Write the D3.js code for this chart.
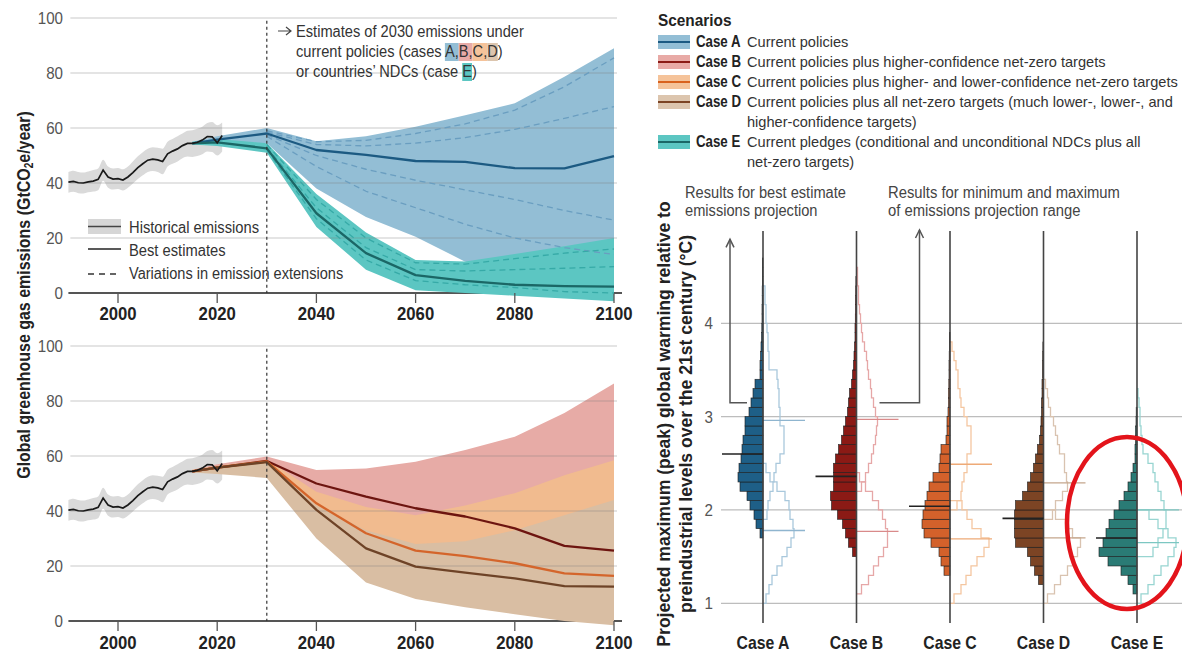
<!DOCTYPE html>
<html><head><meta charset="utf-8">
<script src="https://cdn.jsdelivr.net/npm/d3@7/dist/d3.min.js"></script>
<style>
html,body{margin:0;padding:0;background:#fff;}
text{font-family:"Liberation Sans","Arial",sans-serif;}
</style></head><body>
<svg id="chart" width="1182" height="654"></svg>
<script>
// ================= DATA =================
const histYears = [1990,1991,1992,1993,1994,1995,1996,1997,1998,1999,2000,2001,2002,2003,2004,2005,2006,2007,2008,2009,2010,2011,2012,2013,2014,2015,2016,2017,2018,2019,2020,2021];
const histBest  = [40.3,40.6,40.1,40,40.4,40.7,41.3,44.7,42.2,41.4,41.6,41.1,42.2,43.8,45.6,47,48.3,48.7,48.4,47.8,50.6,51.6,52.4,53.6,54.4,54.4,54.8,55.6,56.9,56.8,54.6,57.3];
const histHi    = [44,44.5,44,43.8,44.2,44.7,45.3,48.5,46,45.3,45.5,45,46,47.8,49.7,51.2,52.5,53,52.8,52.5,55,56,57,58,59,59.2,59.7,60.5,61.8,62.2,61,62];
const histLo    = [36.5,36.8,36.3,36.2,36.6,36.9,37.4,40.8,38.3,37.6,37.8,37.3,38.3,39.8,41.5,42.8,44,44.4,44,43.2,46,47,47.8,49,49.6,49.5,49.8,50.5,51.5,51.3,50,51.5];

const projYears = [2015,2020,2030,2040,2050,2060,2070,2080,2090,2100];
const caseA_line = [54.4,55.8,58,52,50.2,48,47.7,45.4,45.3,49.8];
const caseA_hi   = [55,57,60,55.2,57,60.5,64.6,69,78.6,89];
const caseA_lo   = [54,55,54.5,38,27.6,20.5,11.4,9,7,5];
const caseE_line = [54.4,54.8,52.6,29,14.5,6.5,4.4,3,2.5,2.3];
const caseE_hi   = [55,56,54.5,36,22,12,11.5,14.2,17,20];
const caseE_lo   = [54,53.5,51,24,8.5,1,0,-1,-2,-3];

const caseB_line = [54.4,55.8,58.2,50,45.2,41,38,33.7,27.3,25.6];
const caseB_hi   = [55,57,59.8,54.9,55.5,57.9,62.2,67,75.6,86.4];
const caseB_lo   = [54,55,55.5,44,36,30,25,20,15,10];
const caseC_line = [54.4,55.8,58,42.8,31.9,25.6,23.6,21,17.3,16.4];
const caseC_hi   = [55,56.5,58.7,47,41.5,38.5,42,46.5,53,58.5];
const caseC_lo   = [54,54,53,33,19,11,7,3.5,1,-0.5];
const caseD_line = [54.4,55.8,57.8,40.4,26.4,19.8,17.6,15.5,12.7,12.5];
const caseD_hi   = [54.8,56,58,42,33,28,29,33,38.5,44];
const caseD_lo   = [54,53.5,52,30,14,8,5,2.5,0,-1.5];

const dashYears = [2030,2040,2050,2060,2070,2080,2090,2100];
const dashA1 = [59,55,55.5,58,61.5,66.5,75,85.5];
const dashA2 = [58.5,54,53.5,54.5,56.5,59.5,63.5,67.8];
const dashA3 = [57.5,50,45,41,37.5,34,30,26.5];
const dashA4 = [57,46,37,31,25,20,16.5,14];
const dashE1 = [54,34,20,11,10.5,12.5,14.5,16];
const dashE2 = [53,31,16.5,8.5,8,8.5,9,9.6];
const dashE3 = [52,27,12,4.5,3,2,0.5,0];

const xTicks = [2000,2020,2040,2060,2080,2100];
const yTicks = [0,20,40,60,80,100];
const tempTicks = [1,2,3,4];

const caseNames = ["Case A","Case B","Case C","Case D","Case E"];
const legendDesc = [
  ["Current policies"],
  ["Current policies plus higher-confidence net-zero targets"],
  ["Current policies plus higher- and lower-confidence net-zero targets"],
  ["Current policies plus all net-zero targets (much lower-, lower-, and","higher-confidence targets)"],
  ["Current pledges (conditional and unconditional NDCs plus all","net-zero targets)"]
];

// histogram bins are 0.1 °C wide; first value = lower edge of first bin
const medianBest = [2.6,2.36,2.04,1.91,1.7];
const medianMax  = [2.96,2.97,2.49,2.29,2.0];
const medianMin  = [1.78,1.77,1.69,1.7,1.65];
const bestStart = [1.7,1.5,1.3,1.2,1.1];
const maxStart  = [1.9,2.2,2.0,1.9,1.5];
const minStart  = [1.0,1.1,1.0,1.0,1.0];
const histA_best = [3,7,9,13,16,23,25,24,22,21,20,18,18,14,12,10,8,3,3,2.5,2,1.5,1.2,1,1,0.8,0.8,0.6,0.5,0.5];
const histA_max  = [4,5,7,10,11,13,17,21,21,21,17,17,16,16,15,14,6,6,5,5,4,3,3,2,2];
const histA_min  = [3,6,9,14,19,24,28,31,30,27,26,22,14,7,3];
const histB_best = [4,8,11,14,19,25,26,23,23,23,21,18,15,13,11,9,8,7,5,4,3,2.5,2,1.5,1.5,1.2,1,1,0.8,0.6];
const histB_max  = [5,9,12,15,17,19,20,21,19,17,15,14,12,11,10,8,6,5,4,3,2,2,1,1];
const histB_min  = [5,12,17,22,27,31,31,29,26,22,16,9,3];
const histC_best = [6,9,11,19,26,28,27,25,23,21,17,11,10,9,4,3,3,2,1.5,1.5,1.2,1,1,0.8,0.6,0.5];
const histC_max  = [7,11,12,14,17,17,21,21,21,17,14,11,10,8,8,6,4,2];
const histC_min  = [4,11,16,21,27,34,39,31,22,17,12];
const histD_best = [5,9,13,16,28,29,29,29,28,21,16,13,10,8,6,4,3,2.5,2,2,1.5,1.5,1,1,0.8,0.6];
const histD_max  = [9,12,19,24,23,21,21,16,14,12,10,7,5,4,2];
const histD_min  = [4,11,17,24,29,34,37,29,22,12];
const histE_best = [4,9,16,29,38,34,31,28,23,18,13,9,6,4,2,2,1.5,1.5,1,0.8];
const histE_max  = [16,21,26,29,29,27,24,21,18,16,11,6,5,4,3,3,2,1];
const histE_min  = [4,11,17,24,31,37,39,31,21,12];

// ================= STYLE =================
const caseFill    = ["#1e5f87","#8b1a15","#d3612b","#7c4424","#2a7b75"];
const caseOutline = ["#a9c8dc","#e6a7a7","#f4c6a0","#d9c3b0","#98d5d1"];
const caseRangeLn = ["#8fb5cf","#d98a8a","#eeaa77","#c4a68c","#7cc7c2"];
const legSwatch   = ["#93bed5","#e8aaa6","#f5c39a","#dcc5ae","#5cc6c2"];
const legLine     = ["#1c5a82","#8b1a15","#d9621e","#7c4424","#1b6766"];

// condensed-font emulation: squeeze text horizontally
function cond(sel, f){
  sel.each(function(){
    const L = this.getComputedTextLength();
    this.setAttribute("textLength", (L*f).toFixed(2));
    this.setAttribute("lengthAdjust","spacingAndGlyphs");
  });
  return sel;
}

// ================= DRAW =================
const svg = d3.select("#chart");
const x = d3.scaleLinear().domain([1990,2100]).range([68.4,614]);
const yTop = d3.scaleLinear().domain([0,100]).range([293,18]);
const yBot = d3.scaleLinear().domain([0,100]).range([621,346]);

function rows(years, ...cols){ return years.map((yr,i)=>({year:yr, v:cols.map(c=>c[i])})); }

function drawPanel(y, bands, lines, dashes, labelBase){
  const g = svg.append("g");
  const hist = rows(histYears, histBest, histHi, histLo);
  g.append("path").datum(hist)
    .attr("d", d3.area().curve(d3.curveMonotoneX).x(d=>x(d.year)).y0(d=>y(d.v[2])).y1(d=>y(d.v[1])))
    .attr("fill","#dadada");
  g.append("line").attr("x1",x(1990)).attr("x2",x(2100)+8).attr("y1",y(0)).attr("y2",y(0))
    .attr("stroke","#555").attr("stroke-width",2.2);
  bands.forEach(b=>{
    g.append("path").datum(rows(projYears,b.hi,b.lo))
      .attr("d", d3.area().x(d=>x(d.year)).y0(d=>y(d.v[1])).y1(d=>y(d.v[0])))
      .attr("fill",b.color);
  });
  g.selectAll(".grid").data(yTicks.filter(t=>t>0)).enter().append("line")
    .attr("x1",x(1990)+2).attr("x2",617).attr("y1",d=>y(d)).attr("y2",d=>y(d))
    .attr("stroke","#7d7d7d").attr("stroke-opacity",0.42).attr("stroke-width",1);
  cond(g.selectAll(".yl").data(yTicks).enter().append("text")
    .attr("x",63).attr("y",d=>y(d)+6).attr("text-anchor","end")
    .attr("font-size",17).attr("fill","#555").text(d=>d), 0.89);
  g.selectAll(".xt").data(xTicks).enter().append("line")
    .attr("x1",d=>x(d)).attr("x2",d=>x(d)).attr("y1",y(0)).attr("y2",y(0)+10)
    .attr("stroke","#555").attr("stroke-width",1.3);
  cond(g.selectAll(".xl").data(xTicks).enter().append("text")
    .attr("x",d=>x(d)).attr("y",labelBase).attr("text-anchor","middle")
    .attr("font-size",19).attr("font-weight","bold").attr("fill","#222").text(d=>d), 0.88);
  dashes.forEach(dd=>{
    g.append("path").datum(rows(dashYears,dd.v))
      .attr("d", d3.line().x(d=>x(d.year)).y(d=>y(d.v[0])))
      .attr("fill","none").attr("stroke",dd.color).attr("stroke-width",1.3).attr("stroke-dasharray","6,4");
  });
  lines.forEach(l=>{
    g.append("path").datum(rows(projYears,l.v))
      .attr("d", d3.line().x(d=>x(d.year)).y(d=>y(d.v[0])))
      .attr("fill","none").attr("stroke",l.color).attr("stroke-width",2.3).attr("stroke-linejoin","round");
  });
  g.append("path").datum(hist)
    .attr("d", d3.line().x(d=>x(d.year)).y(d=>y(d.v[0])))
    .attr("fill","none").attr("stroke","#1a1a1a").attr("stroke-width",1.7);
  g.append("line").attr("x1",x(2030)).attr("x2",x(2030)).attr("y1",y(99)).attr("y2",y(0))
    .attr("stroke","#333").attr("stroke-width",1.2).attr("stroke-dasharray","3,3");
  return g;
}

drawPanel(yTop,
  [{hi:caseA_hi,lo:caseA_lo,color:"#93bed5"},{hi:caseE_hi,lo:caseE_lo,color:"#5cc6c2"}],
  [{v:caseA_line,color:"#1c5a82"},{v:caseE_line,color:"#1b6766"}],
  [{v:dashA1,color:"#6a9ec0"},{v:dashA2,color:"#6a9ec0"},{v:dashA3,color:"#6a9ec0"},{v:dashA4,color:"#6a9ec0"},
   {v:dashE1,color:"#36aaa7"},{v:dashE2,color:"#36aaa7"},{v:dashE3,color:"#36aaa7"}], 320);

drawPanel(yBot,
  [{hi:caseB_hi,lo:caseB_lo,color:"#e7aba6"},{hi:caseC_hi,lo:caseC_lo,color:"#f1bb8f"},{hi:caseD_hi,lo:caseD_lo,color:"#d9bea3"}],
  [{v:caseB_line,color:"#6d1510"},{v:caseC_line,color:"#d4652b"},{v:caseD_line,color:"#6e4327"}],
  [], 649);

// left y title
const lt = svg.append("text").attr("transform","translate(30,295) rotate(-90)")
  .attr("text-anchor","middle").attr("font-size",19).attr("font-weight","bold").attr("fill","#222");
lt.append("tspan").text("Global greenhouse gas emissions (GtCO");
lt.append("tspan").attr("font-size",12).attr("dy",3).text("2");
lt.append("tspan").attr("dy",-3).text("e/year)");
cond(lt, 0.84);

// top-left legend
const lg = svg.append("g").attr("font-size",16).attr("fill","#333");
lg.append("rect").attr("x",88).attr("y",219).attr("width",33).attr("height",15).attr("fill","#d6d6d6");
lg.append("line").attr("x1",88).attr("x2",121).attr("y1",226.5).attr("y2",226.5).attr("stroke","#444").attr("stroke-width",1.5);
lg.append("line").attr("x1",88).attr("x2",121).attr("y1",249).attr("y2",249).attr("stroke","#222").attr("stroke-width",1.5);
lg.append("line").attr("x1",88).attr("x2",121).attr("y1",274).attr("y2",274).attr("stroke","#333").attr("stroke-width",1.3).attr("stroke-dasharray","6,5");
cond(lg.append("text").attr("x",129).attr("y",233).text("Historical emissions"), 0.92);
cond(lg.append("text").attr("x",129).attr("y",256).text("Best estimates"), 0.92);
cond(lg.append("text").attr("x",129).attr("y",279).text("Variations in emission extensions"), 0.91);

// annotation with highlights
const ann = svg.append("g").attr("font-size",16).attr("fill","#333");
ann.append("path").attr("d","M278,31H291M286,27L291,31L286,35").attr("stroke","#444").attr("stroke-width",1.2).attr("fill","none");
const annLines = [
  {t:"Estimates of 2030 emissions under", y:37, hl:[]},
  {t:"current policies (cases A,B,C,D)", y:57, hl:[["A,",legSwatch[0]],["B,",legSwatch[1]],["C,",legSwatch[2]],["D",legSwatch[3]]]},
  {t:"or countries\u2019 NDCs (case E)", y:77, hl:[["E",legSwatch[4]]]}
];
annLines.forEach(l=>{
  const hg = ann.append("g");
  const te = ann.append("text").attr("x",296).attr("y",l.y).text(l.t);
  cond(te, 0.915);
  const node = te.node();
  let from = l.t.indexOf("(")+1;
  l.hl.forEach(([s,c])=>{
    const idx = l.t.indexOf(s, from); from = idx + s.length;
    const a = node.getExtentOfChar(idx), b = node.getExtentOfChar(idx + s.length - 1);
    hg.append("rect").attr("x",a.x).attr("y",l.y-14).attr("width",b.x+b.width-a.x).attr("height",18).attr("fill",c);
  });
});

// ---------- right panel ----------
const yT = d3.scaleLinear().domain([1,4]).range([603.3,323.3]);
const cx = d3.scalePoint().domain(caseNames).range([763,1137]);
const wS = d3.scaleLinear().domain([0,10]).range([0,10]);

svg.selectAll(".tg").data(tempTicks).enter().append("line")
  .attr("x1",721).attr("x2",1182).attr("y1",d=>yT(d)).attr("y2",d=>yT(d))
  .attr("stroke","#bdbdbd").attr("stroke-width",1.2);
cond(svg.selectAll(".tl").data(tempTicks).enter().append("text")
  .attr("x",713).attr("y",d=>yT(d)+6).attr("text-anchor","end").attr("font-size",17).attr("fill","#555").text(d=>d), 0.89);

const caseData = caseNames.map((n,i)=>({
  name:n, i,
  best:[histA_best,histB_best,histC_best,histD_best,histE_best][i],
  max:[histA_max,histB_max,histC_max,histD_max,histE_max][i],
  min:[histA_min,histB_min,histC_min,histD_min,histE_min][i],
  bs:bestStart[i], ms:maxStart[i], ns:minStart[i]
}));

function stepPts(arr, start){
  const p=[{w:0,t:start}];
  arr.forEach((w,k)=>{ p.push({w,t:start+k*0.1}); p.push({w,t:start+(k+1)*0.1}); });
  p.push({w:0,t:start+arr.length*0.1});
  return p;
}

caseData.forEach(c=>{
  const g = svg.append("g");
  const X = cx(c.name);
  [[c.max,c.ms],[c.min,c.ns]].forEach(([arr,s])=>{
    g.append("path").datum(stepPts(arr,s))
      .attr("d", d3.line().x(d=>X+wS(d.w)).y(d=>yT(d.t)))
      .attr("fill","none").attr("stroke",caseOutline[c.i]).attr("stroke-width",1.3);
  });
  [medianMax[c.i], medianMin[c.i]].forEach(m=>{
    g.append("line").attr("x1",X).attr("x2",X+42).attr("y1",yT(m)).attr("y2",yT(m))
      .attr("stroke",caseRangeLn[c.i]).attr("stroke-width",1.3);
  });
  g.selectAll(".bar").data(c.best.map((w,k)=>({w,t:c.bs+k*0.1}))).enter().append("rect")
    .attr("x",d=>X-wS(d.w)).attr("width",d=>wS(d.w))
    .attr("y",d=>yT(d.t+0.1)).attr("height",d=>yT(d.t)-yT(d.t+0.1))
    .attr("fill",caseFill[c.i]).attr("stroke","#1a1a1a").attr("stroke-width",0.7).attr("stroke-opacity",0.85);
  g.append("line").attr("x1",X).attr("x2",X).attr("y1",yT(4.99)).attr("y2",yT(0.79))
    .attr("stroke","#444").attr("stroke-width",1.6);
  g.append("line").attr("x1",X-41).attr("x2",X).attr("y1",yT(medianBest[c.i])).attr("y2",yT(medianBest[c.i]))
    .attr("stroke","#222").attr("stroke-width",1.6);
  cond(g.append("text").attr("x",X).attr("y",649).attr("text-anchor","middle")
    .attr("font-size",19).attr("font-weight","bold").attr("fill","#222").text(c.name), 0.83);
});

// arrows for annotations
const arr = svg.append("g").attr("stroke","#555").attr("stroke-width",1.5).attr("fill","none");
const a1x = cx("Case A")-33, a2x = cx("Case B")+63;
arr.append("path").attr("d",`M${cx("Case A")-16},${yT(3.15)}H${a1x}V${yT(4.9)}`);
arr.append("path").attr("d",`M${a1x-4},${yT(4.9)+8}L${a1x},${yT(4.9)}L${a1x+4},${yT(4.9)+8}`);
arr.append("path").attr("d",`M${cx("Case B")+23},${yT(3.15)}H${a2x}V${yT(5.0)}`);
arr.append("path").attr("d",`M${a2x-4},${yT(5.0)+8}L${a2x},${yT(5.0)}L${a2x+4},${yT(5.0)+8}`);

const rtxt = svg.append("g").attr("font-size",16).attr("fill","#444");
cond(rtxt.append("text").attr("x",685).attr("y",198).text("Results for best estimate"), 0.914);
cond(rtxt.append("text").attr("x",685).attr("y",216).text("emissions projection"), 0.914);
cond(rtxt.append("text").attr("x",888).attr("y",198).text("Results for minimum and maximum"), 0.925);
cond(rtxt.append("text").attr("x",888).attr("y",216).text("of emissions projection range"), 0.925);

// right y title
cond(svg.append("text").attr("transform","translate(670,424) rotate(-90)").attr("text-anchor","middle")
  .attr("font-size",19).attr("font-weight","bold").attr("fill","#222")
  .text("Projected maximum (peak) global warming relative to"), 0.925);
cond(svg.append("text").attr("transform","translate(692,424) rotate(-90)").attr("text-anchor","middle")
  .attr("font-size",19).attr("font-weight","bold").attr("fill","#222")
  .text("preindustrial levels over the 21st century (\u00B0C)"), 0.925);

// scenario legend
const sl = svg.append("g");
cond(sl.append("text").attr("x",658).attr("y",26).attr("font-size",16).attr("font-weight","bold").attr("fill","#222").text("Scenarios"), 0.96);
const legBase = [47,67,87,107,147];
caseNames.forEach((n,i)=>{
  const b = legBase[i];
  sl.append("rect").attr("x",658).attr("y",b-12).attr("width",32).attr("height",14).attr("fill",legSwatch[i]);
  sl.append("line").attr("x1",658).attr("x2",690).attr("y1",b-5).attr("y2",b-5).attr("stroke",legLine[i]).attr("stroke-width",2);
  cond(sl.append("text").attr("x",696).attr("y",b).attr("font-size",16).attr("font-weight","bold").attr("fill","#222").text(n), 0.83);
  legendDesc[i].forEach((t,k)=>{
    sl.append("text").attr("x",747).attr("y",b+k*19.5).attr("font-size",14.6).attr("fill","#333").text(t);
  });
});

// red highlight ellipse
svg.append("ellipse").attr("cx",cx("Case E")-10).attr("cy",yT(1.86)).attr("rx",60).attr("ry",86)
  .attr("fill","none").attr("stroke","#e3141b").attr("stroke-width",4.5);
</script>
</body></html>
